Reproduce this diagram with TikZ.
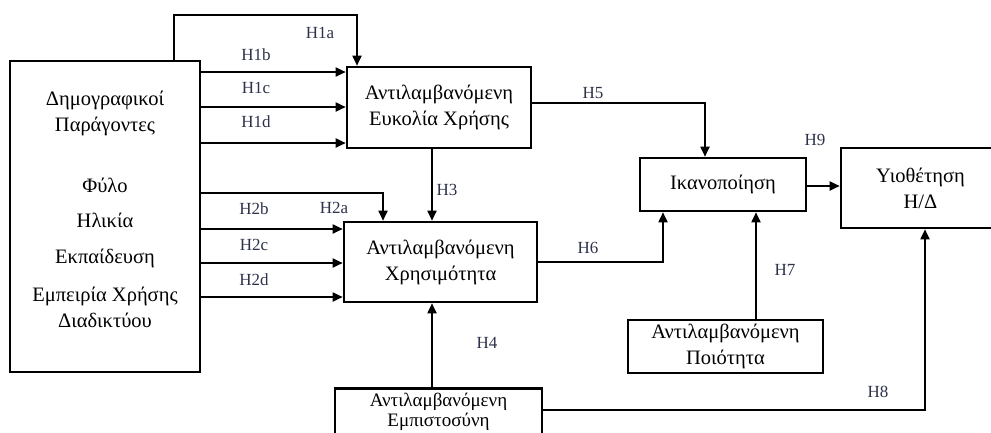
\documentclass[tikz,border=0pt]{standalone}
\usepackage{fontspec}
\setmainfont{Liberation Serif}
\usetikzlibrary{arrows.meta}
\definecolor{lbl}{RGB}{45,50,75}
\tikzset{
  box/.style={draw, line width=2.6pt, rectangle, inner sep=0pt, align=center, font=\fontsize{20.5}{26}\selectfont},
  txt/.style={inner sep=0pt, font=\fontsize{20.5}{26}\selectfont},
  hl/.style={inner sep=0pt, text=lbl, font=\fontsize{17}{20}\selectfont},
  arr/.style={line width=1.8pt, -{Triangle[length=10pt,width=9pt]}},
}
\begin{document}
\begin{tikzpicture}[x=1pt,y=-1pt]
\useasboundingbox (0,0) rectangle (991,432);
\clip (0,0) rectangle (991,432);
% boxes
\node[box, minimum width=190pt, minimum height=311pt] (demo) at (105,216.5) {};
\node[txt, align=center] (t1) at (105,113) {Δημογραφικοί\\Παράγοντες};
\node[txt] (t2) at (105,185) {Φύλο};
\node[txt] (t3) at (105,220) {Ηλικία};
\node[txt] (t4) at (105,258) {Εκπαίδευση};
\node[txt, align=center] (t5) at (105,307) {Εμπειρία Χρήσης\\Διαδικτύου};
\node[box, minimum width=184pt, minimum height=81pt] (eou) at (439,107.5) {Αντιλαμβανόμενη\\Ευκολία Χρήσης};
\node[box, minimum width=193pt, minimum height=80pt] (pu) at (440.5,262) {Αντιλαμβανόμενη\\Χρησιμότητα};
\node[box, minimum width=166pt, minimum height=53pt] (ikan) at (723,184.5) {Ικανοποίηση};
\node[box, minimum width=159pt, minimum height=80pt] (yio) at (920.5,188) {Υιοθέτηση\\Η/Δ};
\node[box, minimum width=195pt, minimum height=53pt] (qual) at (725.5,346.5) {Αντιλαμβανόμενη\\Ποιότητα};
\node[box, minimum width=207pt, minimum height=60pt, anchor=north] (trust) at (438.5,387) {};
\node[txt, align=center, font=\fontsize{19}{20.5}\selectfont] (t6) at (438.5,412) {Αντιλαμβανόμενη\\Εμπιστοσύνη};
% connectors
\draw[arr] (demo.north -| 174,0) |- (357,15) -- (eou.north -| 357,0);
\draw[arr] (demo.east |- 0,72) -- (eou.west |- 0,72);
\draw[arr] (demo.east |- 0,107) -- (eou.west |- 0,107);
\draw[arr] (demo.east |- 0,143) -- (eou.west |- 0,143);
\draw[arr] (demo.east |- 0,193) -| (pu.north -| 383,0);
\draw[arr] (demo.east |- 0,229) -- (pu.west |- 0,229);
\draw[arr] (demo.east |- 0,263) -- (pu.west |- 0,263);
\draw[arr] (demo.east |- 0,297) -- (pu.west |- 0,297);
\draw[arr] (eou.south -| 432,0) -- (pu.north -| 432,0);
\draw[arr] (trust.north -| 432,0) -- (pu.south -| 432,0);
\draw[arr] (eou.east |- 0,103) -| (ikan.north -| 705,0);
\draw[arr] (pu.east |- 0,262) -| (ikan.south -| 663,0);
\draw[arr] (qual.north -| 756,0) -- (ikan.south -| 756,0);
\draw[arr] (trust.east |- 0,410) -| (yio.south -| 925,0);
\draw[arr] (ikan.east |- 0,186) -- (yio.west |- 0,186);
% labels
\node[hl] (h1a) at (320,33) {H1a};
\node[hl] (h1b) at (256,55) {H1b};
\node[hl] (h1c) at (256,88) {H1c};
\node[hl] (h1d) at (256,122) {H1d};
\node[hl] (h2b) at (254,209) {H2b};
\node[hl] (h2a) at (334,208) {H2a};
\node[hl] (h2c) at (254,245) {H2c};
\node[hl] (h2d) at (254,280) {H2d};
\node[hl] (h3) at (447,190) {H3};
\node[hl] (h4) at (487,343) {H4};
\node[hl] (h5) at (593,93) {H5};
\node[hl] (h6) at (588,248) {H6};
\node[hl] (h7) at (785,270) {H7};
\node[hl] (h8) at (878,392) {H8};
\node[hl] (h9) at (815,140) {H9};
\end{tikzpicture}
\end{document}
